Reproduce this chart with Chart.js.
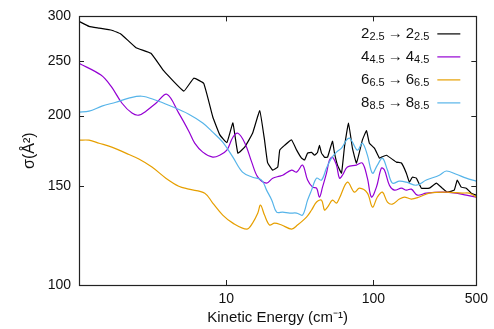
<!DOCTYPE html>
<html>
<head>
<meta charset="utf-8">
<script src="https://cdn.jsdelivr.net/npm/chart.js@4.4.1/dist/chart.umd.min.js"></script>
<style>
  html, body { margin: 0; padding: 0; background: #fff; }
  #wrap { width: 494px; height: 329px; }
</style>
</head>
<body>
<div id="wrap"><canvas id="c" width="494" height="329"></canvas></div>
<script>
// ---------------- data ----------------
const xTicks = [10, 100, 500];
const yTicks = [100, 150, 200, 250, 300];

const legendMain = ['2', '4', '6', '8'];
const legendSub  = ['2.5', '4.5', '6.5', '8.5'];

const energy2 = [1.00,1.17,1.37,1.67,1.93,2.44,3.08,3.77,5.15,6.02,7.04,8.10,9.03,10.1,11.1,12.0,13.4,15.1,16.9,18.2,19.1,20.7,22.4,23.1,24.9,27.8,30.1,32.5,34.1,35.7,38.0,39.8,41.7,43.0,44.4,46.5,48.8,52.7,54.4,57.0,60.7,63.6,67.7,72.0,76.7,84.2,89.7,93.9,101.6,109.8,113.3,122.5,143.3,155,167.4,175.4,183.8,195.7,211.6,239.8,267.4,293.8,317.6,354,371,395,427,462,499];
const sigma2  = [294,288,286,283.5,279,264,258,240,221,233,228,199,185,179,194,171.5,176,186,204,181,165,160,162,173.6,177,181,173.6,168,166.7,171.5,172,170,172,177,171.5,168.7,168.7,180,171.5,163.3,158,176,194,175,164.7,181,188,178.6,175,168,168.7,170,165.3,164.7,158,152.3,155.4,154.8,148.6,148.6,151.7,148.6,146.2,147.4,153.6,149.2,148.6,145.6,144.4];

const energy4 = [1.00,1.41,1.65,1.96,2.29,2.55,2.85,3.33,3.95,4.76,5.57,6.11,6.93,8.10,9.03,10.1,11.1,12.0,13.4,14.9,16.4,18.8,20.7,23.1,24.2,27.8,30.1,33.0,35.7,38.6,41.1,43.0,45.1,48.0,50.3,52.7,56.1,58.8,61.6,66.6,76.7,84.2,91.0,96.9,104.8,113.3,118.8,128.4,138.8,155,167.4,181,198.8,228.7,293.8,365,427,499];
const sigma4  = [247.7,236,225.5,210.3,202,200.3,203.6,210.3,218.2,202,187.6,178.6,172.2,168.7,170,173.6,183,186,178.6,165.3,155.4,151.7,154.8,156.1,156.7,160,158.7,163.3,153.6,149.2,148.6,143.3,149.2,158,166.7,168.7,163.3,154.8,156.7,162,163.3,164.7,154.8,143.3,149.2,161.3,160,150.4,147.4,148.6,147.4,148,144.4,145.6,146.2,145.6,144.4,143.3];

const energy6 = [1.00,1.17,1.37,1.67,2.08,2.55,3.13,3.89,4.76,5.57,7.15,8.10,9.47,11.1,13.8,15.1,16.4,17.1,18.2,19.7,21.3,23.8,27.8,30.5,35.1,38.0,41.1,44.4,46.5,48.8,52.7,56.1,58.8,66.6,74.3,80.4,91.0,98.5,106.4,115.1,124.5,134.5,150.1,162.3,181,205,240,312.6,401,447.5,499];
const sigma6  = [180.8,180.8,178.6,175.8,171.5,167.4,162,154.8,149.8,148,145.6,139.8,133.1,128.8,125.7,128.8,134.2,138.7,133.1,127.8,128.8,127.8,125.7,127.8,132,135.9,140.4,141.5,135.9,137.5,141.5,139.8,142.7,152.3,146.2,148.6,145.6,137.5,143.3,146.2,140.4,139.2,142.1,143.3,142.1,143.3,145.6,146.2,145.6,145.6,143.3];

const energy8 = [1.00,1.17,1.43,1.78,2.18,2.67,3.33,4.07,5.57,6.93,8.10,9.47,11.1,12.9,15.1,17.4,18.8,20.4,22.0,24.2,27.0,30.1,33.0,35.7,38.0,41.1,44.4,48.0,51.9,56.1,60.7,65.6,68.7,72.0,77.9,84.2,91.0,98.5,106.4,115.1,124.5,134.5,150.1,167.4,195.7,228.7,280.3,312.6,365.4,427,499];
const sigma8  = [202.8,203.6,207.8,211.2,214.7,216.4,212.9,208.6,201.1,193.9,186.9,179.4,168.7,158.7,155.4,153.6,147.4,141.5,134.7,134.7,134.2,134.2,133.1,141.5,147.4,154.8,153.6,161.3,168,172.2,175,180.8,182.3,179.4,173.6,178.6,170.1,158,163.3,168,160,151.7,152.9,152.3,150.4,153.6,156.7,159.4,157.3,154.8,152.9];

const seriesColors = ['#000000', '#9400d3', '#e69f00', '#56b4e9'];

// ---------------- chart ----------------
const pts = (xs, ys) => xs.map((x, i) => ({ x: x, y: ys[i] }));
const FONT = "'Liberation Sans', Arial, Helvetica, sans-serif";
const TXT = '#111';

const frameTicks = {
  id: 'frameTicks',
  afterDatasetsDraw(chart) {
    const { ctx, chartArea: a, scales } = chart;
    ctx.save();
    ctx.strokeStyle = '#222';
    ctx.lineWidth = 1;
    ctx.beginPath();
    const L = 5;
    xTicks.forEach(v => {
      const px = Math.round(scales.x.getPixelForValue(v)) + 0.5;
      ctx.moveTo(px, a.bottom); ctx.lineTo(px, a.bottom - L);
      ctx.moveTo(px, a.top); ctx.lineTo(px, a.top + L);
    });
    yTicks.forEach(v => {
      const py = Math.round(scales.y.getPixelForValue(v)) + 0.5;
      ctx.moveTo(a.left, py); ctx.lineTo(a.left + L, py);
      ctx.moveTo(a.right, py); ctx.lineTo(a.right - L, py);
    });
    ctx.stroke();
    ctx.lineWidth = 1.2;
    ctx.strokeRect(Math.round(a.left) + 0.5, Math.round(a.top) + 0.5,
                   Math.round(a.right - a.left), Math.round(a.bottom - a.top));
    ctx.restore();
  }
};

const subLegend = {
  id: 'subLegend',
  afterDraw(chart) {
    const { ctx, chartArea: a } = chart;
    ctx.save();
    const mainF = '15px ' + FONT, subF = '11px ' + FONT;
    chart.data.datasets.forEach((ds, i) => {
      const y = a.top + 17 + i * 23;
      // [text, font, dy, gapAfter]
      const parts = [
        [legendMain[i], mainF, 0, 0],
        [legendSub[i], subF, 4, 3],
        ['\u2192', mainF, 0, 3],
        [legendMain[i], mainF, 0, 0],
        [legendSub[i], subF, 4, 0]
      ];
      let w = 0;
      parts.forEach(p => { ctx.font = p[1]; w += ctx.measureText(p[0]).width + p[3]; });
      const lineStart = a.right - 39, lineEnd = a.right - 16;
      let x = lineStart - 8 - w;
      ctx.fillStyle = TXT;
      ctx.textBaseline = 'middle';
      parts.forEach(p => {
        ctx.font = p[1];
        ctx.fillText(p[0], x, y + p[2]);
        x += ctx.measureText(p[0]).width + p[3];
      });
      ctx.strokeStyle = ds.borderColor;
      ctx.lineWidth = 1.2;
      ctx.beginPath();
      ctx.moveTo(lineStart, y + 0.5);
      ctx.lineTo(lineEnd, y + 0.5);
      ctx.stroke();
    });
    ctx.restore();
  }
};

const mk = (label, xs, ys, color, order, tension) => ({
  label: label,
  data: pts(xs, ys),
  borderColor: color,
  backgroundColor: color,
  borderWidth: 1.2,
  pointRadius: 0,
  tension: tension,
  fill: false,
  order: order
});

new Chart(document.getElementById('c'), {
  type: 'line',
  data: {
    datasets: [
      mk('2 2.5', energy2, sigma2, seriesColors[0], 3, 0.1),
      mk('4 4.5', energy4, sigma4, seriesColors[1], 2, 0.35),
      mk('6 6.5', energy6, sigma6, seriesColors[2], 1, 0.35),
      mk('8 8.5', energy8, sigma8, seriesColors[3], 0, 0.35)
    ]
  },
  options: {
    responsive: false,
    devicePixelRatio: 1,
    animation: false,
    layout: { padding: { top: 16, right: 17, left: 0, bottom: 0 } },
    plugins: { legend: { display: false }, tooltip: { enabled: false } },
    scales: {
      x: {
        type: 'logarithmic',
        min: 1, max: 500,
        grid: { display: false, drawTicks: false },
        border: { display: false },
        afterBuildTicks: s => { s.ticks = xTicks.map(v => ({ value: v })); },
        afterFit: s => { s.height = 44; },
        ticks: {
          callback: v => String(v),
          color: TXT, font: { family: FONT, size: 14 },
          padding: 6, maxRotation: 0, autoSkip: false
        },
        title: {
          display: true, text: 'Kinetic Energy (cm\u207B\u00B9)',
          color: TXT, font: { family: FONT, size: 15 },
          padding: { top: 0, bottom: 2 }
        }
      },
      y: {
        type: 'logarithmic',
        min: 100, max: 300,
        grid: { display: false, drawTicks: false },
        border: { display: false },
        afterBuildTicks: s => { s.ticks = yTicks.map(v => ({ value: v })); },
        afterFit: s => { s.width = 79; },
        ticks: {
          callback: v => String(v),
          color: TXT, font: { family: FONT, size: 14 },
          padding: 8, autoSkip: false
        },
        title: {
          display: true, text: '\u03C3(\u00C5\u00B2)',
          color: TXT, font: { family: FONT, size: 16 },
          padding: { top: 20, bottom: 0 }
        }
      }
    }
  },
  plugins: [frameTicks, subLegend]
});
</script>
</body>
</html>
